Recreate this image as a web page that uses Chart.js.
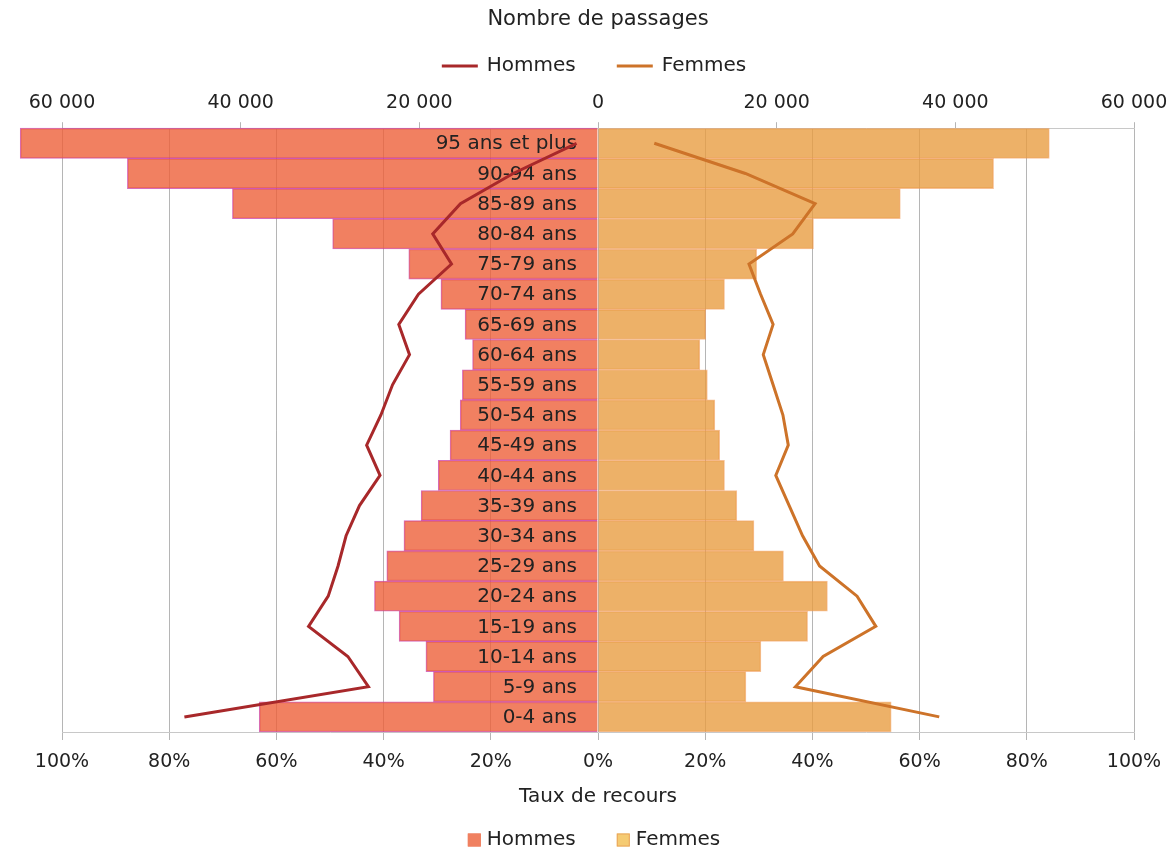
<!DOCTYPE html>
<html lang="fr">
<head>
<meta charset="utf-8">
<title>Passages et taux de recours par âge et sexe</title>
<script src="https://cdn.jsdelivr.net/npm/chart.js@4.4.1/dist/chart.umd.min.js"></script>
<style>
  html, body { margin: 0; padding: 0; background: #fff; }
</style>
</head>
<body>
<canvas id="pyramide" width="1170" height="849"></canvas>
<script>
// age groups, youngest first (the axis is reversed so 95+ sits on top)
const ageGroups = [
  "0-4 ans", "5-9 ans", "10-14 ans", "15-19 ans", "20-24 ans", "25-29 ans",
  "30-34 ans", "35-39 ans", "40-44 ans", "45-49 ans", "50-54 ans", "55-59 ans",
  "60-64 ans", "65-69 ans", "70-74 ans", "75-79 ans", "80-84 ans", "85-89 ans",
  "90-94 ans", "95 ans et plus"
];

// taux de recours (%)
const hommesTaux = [63.2, 30.7, 32.1, 37.1, 41.7, 39.4, 36.2, 33.0, 29.8, 27.6,
  25.7, 25.3, 23.4, 24.8, 29.3, 35.3, 49.5, 68.2, 87.8, 107.8];
const femmesTaux = [54.7, 27.6, 30.4, 39.1, 42.8, 34.6, 29.1, 25.9, 23.6, 22.7,
  21.8, 20.4, 19.0, 20.1, 23.6, 29.6, 40.2, 56.4, 73.8, 84.2];

// nombre de passages
const hommesPassages = [46300, 25700, 28000, 32400, 30200, 29100, 28200, 26700, 24400, 25900,
  24300, 23000, 21100, 22300, 20100, 16400, 18500, 15400, 9500, 2400];
const femmesPassages = [38200, 22100, 25200, 31100, 29000, 24800, 22900, 21400, 19900, 21300,
  20700, 19600, 18500, 19600, 18200, 16900, 21800, 24300, 16500, 6300];

const tauxTicks = [-100, -80, -60, -40, -20, 0, 20, 40, 60, 80, 100];
const passagesTicks = [-60000, -40000, -20000, 0, 20000, 40000, 60000];

const FONT = "DejaVu Sans";
const TEXT = "#222";
const ROUGE = "#a8282a";
const ORANGE = "#cd7329";

Chart.defaults.font.family = FONT;
Chart.defaults.color = TEXT;

const milliers = (v) => String(Math.abs(v)).replace(/\B(?=(\d{3})+(?!\d))/g, " ");

// fixed axis band; end labels may hang into the page margin
const fixAxis = (height) => (s) => {
  s.height = height;
  s.paddingLeft = 0;
  s.paddingRight = 0;
};

// age labels go between the bars and the lines
const ageLabels = {
  id: "ageLabels",
  afterDatasetDraw(chart, args) {
    if (args.index !== 0) return;
    const { ctx } = chart;
    const x = chart.scales.x.getPixelForValue(0) - 21;
    ctx.save();
    ctx.font = `20px "${FONT}"`;
    ctx.fillStyle = TEXT;
    ctx.textAlign = "right";
    ctx.textBaseline = "middle";
    ageGroups.forEach((label, i) => {
      ctx.fillText(label, x, chart.scales.y.getPixelForValue(i) + 1);
    });
    ctx.restore();
  }
};

function legendRow(ctx, centerX, y, items, swatchW, gap, spacing, drawSwatch) {
  const widths = items.map((it) => swatchW + gap + ctx.measureText(it.text).width);
  const total = widths.reduce((a, b) => a + b, 0) + spacing * (items.length - 1);
  let x = centerX - total / 2;
  items.forEach((it, i) => {
    drawSwatch(it, x, y);
    ctx.fillStyle = TEXT;
    ctx.fillText(it.text, x + swatchW + gap, y);
    x += widths[i] + spacing;
  });
}

// two legends: lines (passages) on top, bars (taux) at the bottom
const legendes = {
  id: "legendes",
  afterDraw(chart) {
    const { ctx, chartArea } = chart;
    const cx = (chartArea.left + chartArea.right) / 2 - 4;
    ctx.save();
    ctx.font = `20px "${FONT}"`;
    ctx.textAlign = "left";
    ctx.textBaseline = "middle";

    legendRow(ctx, cx, 66, [
      { text: "Hommes", color: ROUGE },
      { text: "Femmes", color: ORANGE }
    ], 36, 9, 41, (it, x, y) => {
      ctx.fillStyle = it.color;
      ctx.fillRect(x, y - 1.5, 36, 3);
    });

    legendRow(ctx, cx, 840, [
      { text: "Hommes", fill: "#f08060", stroke: "#f08060" },
      { text: "Femmes", fill: "#f5cb72", stroke: "#eaa55c" }
    ], 13, 6, 41, (it, x, y) => {
      ctx.fillStyle = it.fill;
      ctx.fillRect(x, y - 6.5, 13, 13);
      ctx.strokeStyle = it.stroke;
      ctx.lineWidth = 1;
      ctx.strokeRect(x + 0.5, y - 6, 12, 12);
    });
    ctx.restore();
  }
};

new Chart(document.getElementById("pyramide"), {
  type: "bar",
  data: {
    labels: ageGroups,
    datasets: [
      {
        label: "Hommes",
        data: hommesTaux.map((v) => -v),
        backgroundColor: "rgba(238, 96, 58, 0.8)",
        borderColor: "rgba(200, 60, 165, 0.75)",
        borderWidth: 1,
        xAxisID: "x",
        order: 1,
        clip: false
      },
      {
        label: "Femmes",
        data: femmesTaux,
        backgroundColor: "rgba(233, 157, 66, 0.8)",
        borderColor: "rgba(240, 150, 80, 0.6)",
        borderWidth: 1,
        xAxisID: "x",
        order: 1
      },
      {
        type: "line",
        label: "Hommes",
        data: hommesPassages.map((v) => -v),
        borderColor: ROUGE,
        backgroundColor: ROUGE,
        borderWidth: 3,
        pointRadius: 0,
        tension: 0,
        xAxisID: "x2",
        order: 0
      },
      {
        type: "line",
        label: "Femmes",
        data: femmesPassages,
        borderColor: ORANGE,
        backgroundColor: ORANGE,
        borderWidth: 3,
        pointRadius: 0,
        tension: 0,
        xAxisID: "x2",
        order: 0
      }
    ]
  },
  options: {
    indexAxis: "y",
    responsive: false,
    animation: false,
    barPercentage: 1,
    categoryPercentage: 1,
    layout: { padding: { left: 62, right: 36, top: 0, bottom: 37 } },
    scales: {
      y: {
        type: "category",
        display: false,
        reverse: true,
        stacked: true
      },
      x: {
        position: "bottom",
        stacked: true,
        min: -100,
        max: 100,
        afterBuildTicks: (s) => { s.ticks = tauxTicks.map((value) => ({ value })); },
        afterFit: fixAxis(80),
        ticks: { font: { size: 19 }, color: TEXT, padding: 11, callback: (v) => Math.abs(v) + "%" },
        grid: { color: "#b5b5b5", tickLength: 8 },
        border: { color: "#c8c8c8" },
        title: {
          display: true,
          text: "Taux de recours",
          font: { size: 20 },
          color: TEXT,
          padding: { top: 0, bottom: 3 }
        }
      },
      x2: {
        position: "top",
        min: -60000,
        max: 60000,
        afterBuildTicks: (s) => { s.ticks = passagesTicks.map((value) => ({ value })); },
        afterFit: fixAxis(40),
        ticks: { font: { size: 19 }, color: TEXT, padding: 8, callback: (v) => milliers(v) },
        grid: { drawOnChartArea: false, tickLength: 6, color: "#b5b5b5" },
        border: { color: "#c8c8c8" }
      }
    },
    plugins: {
      legend: { display: false },
      tooltip: { enabled: false },
      title: {
        display: true,
        text: "Nombre de passages",
        font: { size: 21, weight: "normal" },
        color: TEXT,
        padding: { top: 7, bottom: 56 }
      }
    }
  },
  plugins: [ageLabels, legendes]
});
</script>
</body>
</html>
